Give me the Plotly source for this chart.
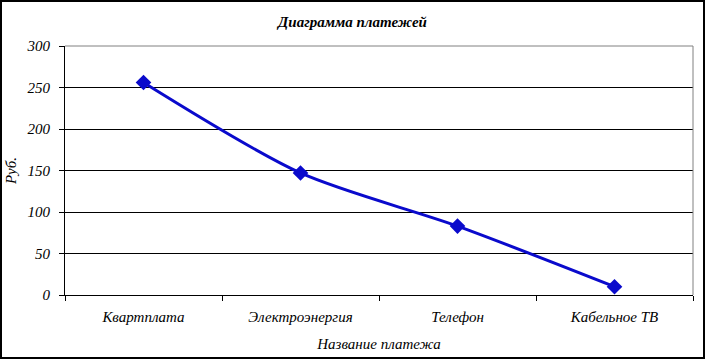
import plotly.graph_objects as go

categories = ["Квартплата", "Электроэнергия", "Телефон", "Кабельное ТВ"]
values = [256, 147, 83, 10]
y_ticks = [0, 50, 100, 150, 200, 250, 300]

W, H = 705, 359
ml, mr, mt, mb = 65, 12, 46, 64
pw, ph = W - ml - mr, H - mt - mb

family = "Liberation Serif"

def f(size=13, weight="normal"):
    return dict(family=family, size=size, color="black", style="italic", weight=weight)

fig = go.Figure()
fig.add_trace(go.Scatter(
    x=categories, y=values, mode="lines+markers",
    line=dict(color="#0A0ACC", width=3, shape="spline", smoothing=0.8),
    marker=dict(symbol="diamond", size=12, color="#0A0ACC"),
    showlegend=False,
))

fig.update_layout(
    width=W, height=H,
    margin=dict(l=ml, r=mr, t=mt, b=mb, autoexpand=False),
    paper_bgcolor="white", plot_bgcolor="white",
    title=dict(text="Диаграмма платежей", x=0.5, xanchor="center",
               y=1 - 22 / H, yanchor="middle", font=f(15, "bold")),
    xaxis=dict(type="category", range=[-0.5, 3.5], tickson="boundaries",
               ticks="outside", ticklen=5, tickcolor="black",
               showline=True, linecolor="black", linewidth=1,
               showgrid=False, tickfont=f(15), automargin=False,
               ticklabelstandoff=8,
               title=dict(text="Название платежа", standoff=14, font=f(15))),
    yaxis=dict(range=[0, 300], tickvals=y_ticks, ticks="outside", ticklen=5,
               tickcolor="black", showline=True, linecolor="black", linewidth=1,
               showgrid=True, gridcolor="black", gridwidth=1, zeroline=False,
               tickfont=f(15), automargin=False, ticklabelstandoff=6,
               title=dict(text="Руб.", standoff=6, font=f(15))),
    font=dict(family=family, size=15, color="black"),
)

# plot area top/right border (gray)
fig.add_shape(type="line", xref="paper", yref="paper", x0=0, x1=1, y0=1, y1=1,
              line=dict(color="#808080", width=1))
fig.add_shape(type="line", xref="paper", yref="paper", x0=1, x1=1, y0=0, y1=1,
              line=dict(color="#808080", width=1))
# outer chart border
fig.add_shape(type="rect", xref="paper", yref="paper",
              x0=-(ml - 1) / pw, x1=1 + (mr - 1) / pw,
              y0=-(mb - 1) / ph, y1=1 + (mt - 1) / ph,
              line=dict(color="black", width=2), layer="above")

fig.write_html("out.html", config={"displayModeBar": False},
               post_script="document.body.style.margin='0';document.body.style.overflow='hidden';")
